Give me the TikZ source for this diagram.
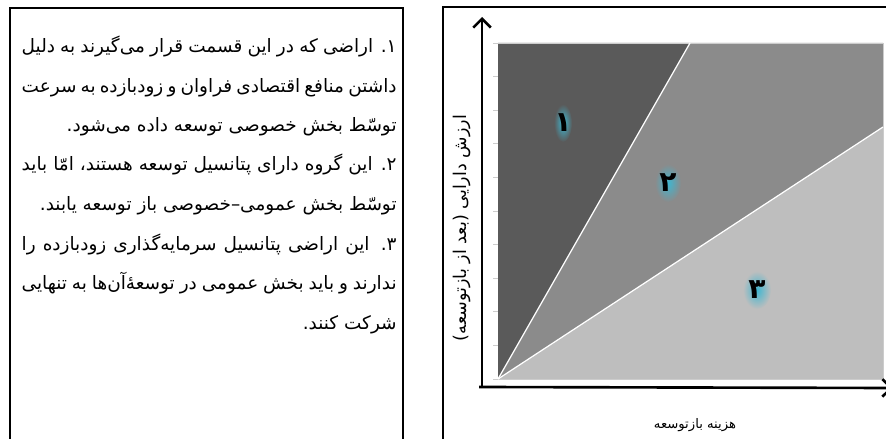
\documentclass[tikz,border=0pt]{standalone}
\usepackage{fontspec}
\usetikzlibrary{arrows.meta}
\TeXXeTstate=1
\newfontfamily\arabicfont[Script=Arabic]{DejaVu Sans}
\newcommand{\fa}[1]{\arabicfont\beginR #1\endR}
\newlength{\linew}
\setlength{\linew}{7.5cm}
\definecolor{zonedark}{HTML}{5A5A5A}
\definecolor{zonemid}{HTML}{8B8B8B}
\definecolor{zonelight}{HTML}{BEBEBE}
\definecolor{glowc}{HTML}{3FB6D0}

\begin{document}
\begin{tikzpicture}[x=0.02cm,y=-0.02cm,
  txt/.style={anchor=base east,inner sep=0pt,font=\fontsize{10.5}{12}\selectfont},
  frame/.style={line width=0.9pt},
  zone/.style={draw=white,line width=0.7pt},
  axis/.style={line width=1.5pt,-{Straight Barb[length=5pt,width=10pt,line width=1.5pt]}},
  num/.style={inner sep=0pt,font=\fontsize{16}{18}\selectfont\bfseries},
  lab/.style={inner sep=0pt,font=\fontsize{10}{12}\selectfont}]
\useasboundingbox (0,0) rectangle (886,439);

% left panel
\draw[frame] (10,439) -- (10,8) -- (403,8) -- (403,439);
\node[txt] (l1) at (397,53) {\makebox[\linew][s]{\fa{۱. اراضی که در این قسمت قرار می‌گیرند به دلیل}}};
\node[txt] (l2) at (397,92) {\makebox[\linew][s]{\fa{داشتن منافع اقتصادی فراوان و زودبازده به سرعت}}};
\node[txt] (l3) at (397,132) {\fa{توسّط بخش خصوصی توسعه داده می‌شود.}};
\node[txt] (l4) at (397,171) {\makebox[\linew][s]{\fa{۲. این گروه دارای پتانسیل توسعه هستند، امّا باید}}};
\node[txt] (l5) at (397,211) {\fa{توسّط بخش عمومی–خصوصی باز توسعه یابند.}};
\node[txt] (l6) at (397,250) {\makebox[\linew][s]{\fa{۳. این اراضی پتانسیل سرمایه‌گذاری زودبازده را}}};
\node[txt] (l7) at (397,289) {\makebox[\linew][s]{\fa{ندارند و باید بخش عمومی در توسعهٔ‌آن‌ها به تنهایی}}};
\node[txt] (l8) at (397,329) {\fa{شرکت کنند.}};

% right panel
\draw[frame] (443,439) -- (443,7) -- (886,7);
\coordinate (O) at (498,379);
\coordinate (TL) at (498,43);
\coordinate (T1) at (690,43);
\coordinate (TR) at (883,43);
\coordinate (R2) at (883,127);
\coordinate (BR) at (883,379);
\fill[zonedark] (O) -- (TL) -- (T1) -- cycle;
\fill[zonemid] (O) -- (T1) -- (TR) -- (R2) -- cycle;
\fill[zonelight] (O) -- (R2) -- (BR) -- cycle;
\draw[gray!40,line width=0.5pt] (TL) -- (TR) -- (BR) -- (O);
\draw[zone] (O) -- (T1);
\draw[zone] (O) -- (R2);
\foreach \k in {0,...,10}
  \draw[gray!40,line width=0.5pt] (493,{43+33.6*\k}) -- (498,{43+33.6*\k});

% axes
\coordinate (ya) at (482,388);
\draw[axis] (ya) -- (482,17);
\draw[axis] (479,387) -- (893,388);

% zone numbers with glow
\foreach \p/\d/\bg/\rx in {{563,123}/۱/zonedark/9,{668,183}/۲/zonemid/13,{757,290}/۳/zonelight/14}{
  \shade[inner color=glowc,outer color=\bg] (\p) ellipse [x radius=\rx, y radius=19];
  \node[num] at (\p) {\fa{\d}};
}

% axis labels
\node[lab,rotate=90] (ylab) at (462,228) {\fa{ارزش دارایی (بعد از بازتوسعه)}};
\node[lab,font=\fontsize{7.5}{9}\selectfont] (xlab) at (695,425) {\fa{هزینه بازتوسعه}};
\end{tikzpicture}
\end{document}
